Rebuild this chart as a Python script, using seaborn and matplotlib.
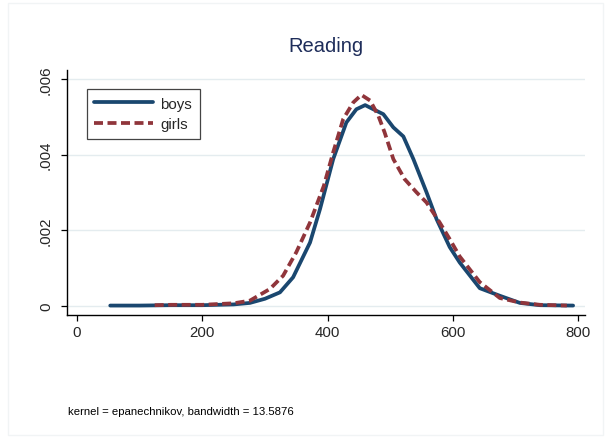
import numpy as np
import pandas as pd
import seaborn as sns
import matplotlib.pyplot as plt
from matplotlib.patches import Rectangle

# kernel density estimates
boys_x = [53, 100, 150, 200, 250, 276, 300, 324, 345, 372, 388, 409, 430, 446, 460,
          473, 489, 505, 521, 537, 558, 574, 595, 611, 643, 675, 707, 739, 792]
boys_y = [0, 0, 0.00001, 0.00001, 0.00003, 0.00007, 0.00018, 0.00035, 0.00075, 0.00167,
          0.00256, 0.00388, 0.00485, 0.0052, 0.00531, 0.0052, 0.00507, 0.00472, 0.00448,
          0.00388, 0.003, 0.00229, 0.00155, 0.00114, 0.00046, 0.00026, 0.00007, 0.00001, 0]
girls_x = [124, 150, 200, 250, 276, 308, 329, 350, 372, 394, 409, 425, 441, 454, 468,
           481, 491, 505, 523, 542, 558, 579, 595, 611, 643, 675, 707, 739, 782]
girls_y = [0.00001, 0.00002, 0.00002, 0.00006, 0.00013, 0.00044, 0.00079, 0.00141, 0.0022,
           0.00317, 0.00406, 0.00494, 0.00538, 0.00558, 0.00543, 0.00503, 0.00459, 0.00388,
           0.00335, 0.003, 0.00273, 0.0022, 0.00176, 0.0013, 0.00062, 0.0002, 0.00008,
           0.00002, 0]

x_ticks = [0, 200, 400, 600, 800]
y_ticks = [0, 0.002, 0.004, 0.006]
y_ticklabels = ['0', '.002', '.004', '.006']
title = 'Reading'
note = 'kernel = epanechnikov, bandwidth = 13.5876'

df = pd.concat([
    pd.DataFrame({'score': boys_x, 'density': boys_y, 'group': 'boys'}),
    pd.DataFrame({'score': girls_x, 'density': girls_y, 'group': 'girls'}),
])

sns.set_style('white')
plt.rcParams['font.family'] = ['Liberation Sans', 'DejaVu Sans']

fig = plt.figure(figsize=(6.05, 4.39), dpi=100)
ax = fig.add_axes([67 / 605, 1 - 316 / 439, (585 - 67) / 605, (316 - 71) / 439])

# faint outer border of the graph region
fig.patches.append(Rectangle((8 / 605, 3 / 439), 595 / 605, 432 / 439, transform=fig.transFigure,
                             fill=False, edgecolor='#f1f4f5', linewidth=1))

for y in y_ticks:
    ax.axhline(y, color='#e4ecef', linewidth=1, zorder=0)

sns.lineplot(data=df, x='score', y='density', hue='group', style='group',
             palette={'boys': '#1a476f', 'girls': '#90353b'},
             dashes={'boys': '', 'girls': (2.4, 1.2)},
             estimator=None, sort=True, linewidth=2.7, ax=ax)

ax.set_xlim(-16, 811)
ax.set_ylim(-0.00025, 0.00624)
ax.set_xticks(x_ticks)
ax.set_yticks(y_ticks)
ax.set_yticklabels(y_ticklabels, rotation=90, va='center')
ax.tick_params(axis='both', labelsize=10.8, length=4, width=0.9, color='black',
               direction='out', left=True, bottom=True)
ax.tick_params(axis='y', pad=6)
ax.set_xlabel('')
ax.set_ylabel('')
for side in ['top', 'right']:
    ax.spines[side].set_visible(False)
for side in ['left', 'bottom']:
    ax.spines[side].set_color('black')
    ax.spines[side].set_linewidth(1)

handles, labels = ax.get_legend_handles_labels()
leg = ax.legend(handles, labels, loc='upper left', bbox_to_anchor=(87 / 605, 1 - 90 / 439),
                bbox_transform=fig.transFigure, borderaxespad=0, fontsize=10.8,
                handlelength=3.9, handletextpad=0.5, labelspacing=0.45, borderpad=0.5,
                fancybox=False, framealpha=1, edgecolor='#444444')
leg.get_frame().set_linewidth(0.9)

fig.text(326 / 605, 1 - 46 / 439, title, ha='center', va='center', fontsize=14.5, color='#1e2d5a')
fig.text(68 / 605, 1 - 412 / 439, note, ha='left', va='center', fontsize=8.2, color='black')

fig.savefig('out.png', dpi=100, facecolor='white')
